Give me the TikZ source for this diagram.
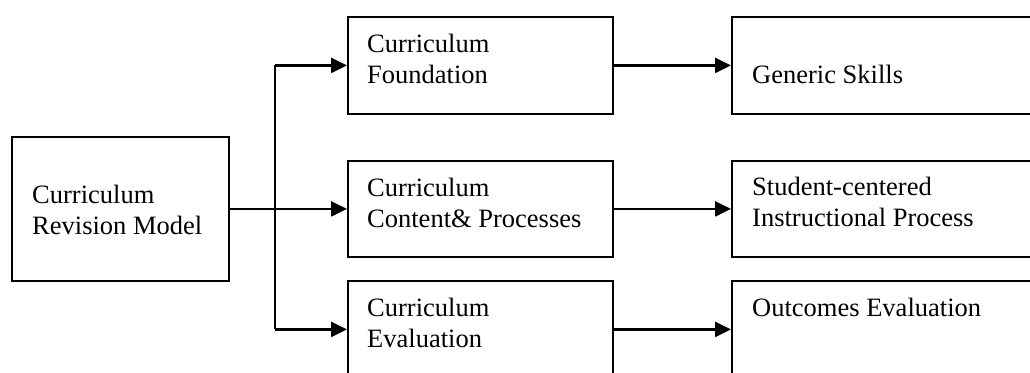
\documentclass[tikz,border=0pt]{standalone}
\usepackage{fontspec}
\setmainfont{Liberation Serif}
\usetikzlibrary{arrows.meta}
\begin{document}
\begin{tikzpicture}[x=1pt,y=-1pt,
  box/.style={draw,line width=1.8pt,inner sep=0pt,anchor=north west,minimum height=97pt},
  lbl/.style={anchor=base west,inner sep=0pt,align=left,font=\fontsize{26.5}{31}\selectfont},
  conn/.style={line width=2.4pt,-{Triangle[length=16pt,width=15pt]}},
  link/.style={line width=2.4pt}]
\useasboundingbox (0,0) rectangle (1030,372);
\clip (0,0) rectangle (1030,372);
% boxes
\node[box,minimum width=217pt,minimum height=144pt] (L) at (11,136) {};
\node[box,minimum width=265pt] (M1) at (347,16) {};
\node[box,minimum width=265pt,minimum height=96pt] (M2) at (347,160) {};
\node[box,minimum width=265pt] (M3) at (347,280) {};
\node[box,minimum width=320pt] (R1) at (731,16) {};
\node[box,minimum width=320pt,minimum height=96pt] (R2) at (731,160) {};
\node[box,minimum width=320pt] (R3) at (731,280) {};
% texts (anchor = baseline of last line)
\node[lbl] (tL) at (32,234) {Curriculum\\Revision Model};
\node[lbl] (tM1) at (367,83) {Curriculum\\Foundation};
\node[lbl] (tM2) at (367,227) {Curriculum\\Content\& Processes};
\node[lbl] (tM3) at (367,347) {Curriculum\\Evaluation};
\node[lbl] (tR1) at (752,83) {Generic Skills};
\node[lbl] (tR2) at (752,226) {Student-centered\\Instructional Process};
\node[lbl] (tR3) at (752,316) {Outcomes Evaluation};
% connectors
\coordinate (bus) at (275,0);
\draw[link] (bus |- M1.west) -- (bus |- M3.west);
\draw[conn] (bus |- M1.west) -- (M1.west);
\draw[conn] (L.east) -- (M2.west);
\draw[conn] (bus |- M3.west) -- (M3.west);
\draw[conn] (M1.east) -- (R1.west);
\draw[conn] (M2.east) -- (R2.west);
\draw[conn] (M3.east) -- (R3.west);
\end{tikzpicture}
\end{document}
